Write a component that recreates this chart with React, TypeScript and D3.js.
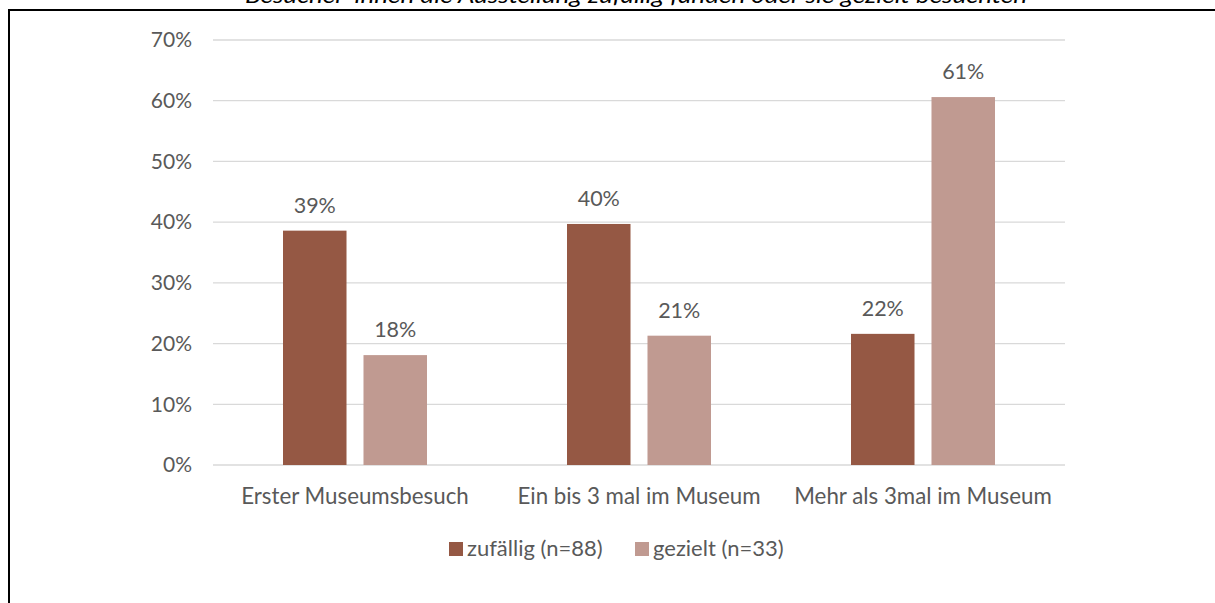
import React from "react";
import * as d3 from "d3";

const categories = ["Erster Museumsbesuch", "Ein bis 3 mal im Museum", "Mehr als 3mal im Museum"];
const seriesNames = ["zufällig (n=88)", "gezielt (n=33)"];
const zufaellig = [0.386, 0.397, 0.216];
const gezielt = [0.181, 0.213, 0.606];
const yTicks = [0, 0.1, 0.2, 0.3, 0.4, 0.5, 0.6, 0.7];
const title = "Besucher*innen die Ausstellung zufällig fanden oder sie gezielt besuchten";

const colors = ["#955844", "#c09a91"];
const FONT = "Lato, 'Noto Sans', sans-serif";
const TXT = "#595959";

export default function App() {
  const W = 1215, H = 603;
  const x0 = d3.scaleBand<string>().domain(categories).range([213, 1065]).paddingInner(0).paddingOuter(0);
  const x1 = d3.scaleBand<string>().domain(seriesNames).range([70, 214]).paddingInner(0.211).paddingOuter(0);
  const y = d3.scaleLinear().domain([0, 0.7]).range([465, 40]);
  const series = [zufaellig, gezielt];
  const fmt = (v: number) => `${Math.round(v * 100)}%`;

  return (
    <svg width={W} height={H} style={{ position: "absolute", left: 0, top: 0 }} fontFamily={FONT}>
      <rect x={0} y={0} width={W} height={H} fill="#fff" />
      <text x={636} y={3} textAnchor="middle" fontSize={21} fontStyle="italic" fill="#000" textLength={782} lengthAdjust="spacingAndGlyphs">{title}</text>
      <rect x={9} y={10} width={W + 10} height={H + 10} fill="none" stroke="#000" strokeWidth={2} />
      {yTicks.map((t) => (
        <g key={t}>
          <line x1={213} x2={1065} y1={y(t)} y2={y(t)} stroke="#d9d9d9" strokeWidth={1.3} />
          <text x={192} y={y(t)} dy="0.35em" textAnchor="end" fontSize={21} fill={TXT}>{fmt(t)}</text>
        </g>
      ))}
      {categories.map((c, i) => (
        <g key={c} transform={`translate(${x0(c)},0)`}>
          {series.map((s, j) => {
            const bx = x1(seriesNames[j])!;
            const bw = x1.bandwidth();
            return (
              <g key={j}>
                <rect x={bx} y={y(s[i])} width={bw} height={y(0) - y(s[i])} fill={colors[j]} />
                <text x={bx + bw / 2} y={y(s[i]) - 18} textAnchor="middle" fontSize={21.5} fill={TXT}>{fmt(s[i])}</text>
              </g>
            );
          })}
          <text x={x0.bandwidth() / 2} y={504} textAnchor="middle" fontSize={22.3} fill={TXT}>{c}</text>
        </g>
      ))}
      {seriesNames.map((n, j) => {
        const lx = j === 0 ? 449 : 635;
        return (
          <g key={n}>
            <rect x={lx} y={542} width={14} height={14} fill={colors[j]} />
            <text x={lx + 18} y={556} fontSize={22} fill={TXT}>{n}</text>
          </g>
        );
      })}
    </svg>
  );
}
